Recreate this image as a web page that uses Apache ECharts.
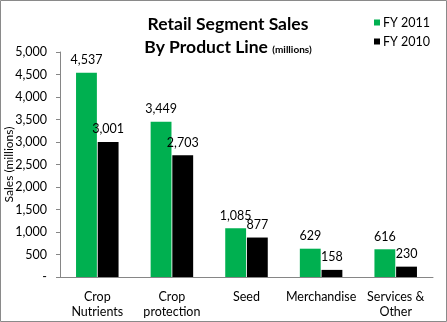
<!DOCTYPE html>
<html>
<head>
<meta charset="utf-8">
<script src="https://cdn.jsdelivr.net/npm/echarts@6/dist/echarts.min.js"></script>
<style>
  html, body { margin: 0; padding: 0; background: #fff; }
  #chart { width: 447px; height: 322px; }
</style>
</head>
<body>
<div id="chart"></div>
<script>
// Retail segment sales by product line, in millions
const categories = ['Crop\nNutrients', 'Crop\nprotection', 'Seed', 'Merchandise', 'Services &\nOther'];
const fy2011 = [4537, 3449, 1085, 629, 616];
const fy2010 = [3001, 2703, 877, 158, 230];
const seriesNames = ['FY 2011', 'FY 2010'];

const FONT = 'Lato, "Liberation Sans", sans-serif';
const fmt = v => v === 0 ? '-' : v.toLocaleString('en-US');

const chart = echarts.init(document.getElementById('chart'));

const barLabel = {
  show: true,
  position: 'top',
  distance: 6,
  color: '#000',
  fontSize: 12.5,
  fontFamily: FONT,
  formatter: p => fmt(p.value)
};

chart.setOption({
  animation: false,
  backgroundColor: '#fff',
  textStyle: { fontFamily: FONT },
  title: {
    text: '{t|Retail Segment Sales}\n{t|By Product Line} {s|(millions)}',
    left: 223,
    textAlign: 'center',
    top: 8,
    textStyle: {
      rich: {
        t: { fontSize: 17.5, fontWeight: 'bold', color: '#000', fontFamily: FONT, lineHeight: 23 },
        s: { fontSize: 10, fontWeight: 'bold', color: '#000', fontFamily: FONT, lineHeight: 23, verticalAlign: 'middle', padding: [4, 0, 0, 0] }
      }
    }
  },
  legend: {
    orient: 'vertical',
    left: 369,
    top: 11,
    itemWidth: 6,
    itemHeight: 6,
    itemGap: 6,
    icon: 'rect',
    data: seriesNames,
    textStyle: { fontSize: 12.5, color: '#000', fontFamily: FONT, padding: [0, 0, 0, -2] }
  },
  grid: { left: 60, right: 14, top: 52, bottom: 45, outerBoundsMode: 'none' },
  xAxis: {
    type: 'category',
    data: categories,
    axisLine: { lineStyle: { color: '#868686', width: 1 } },
    axisTick: { show: false },
    axisLabel: { color: '#000', fontSize: 12.5, fontFamily: FONT, margin: 12, lineHeight: 15, interval: 0 }
  },
  yAxis: {
    type: 'value',
    min: 0,
    max: 5000,
    interval: 500,
    name: 'Sales (millions)',
    nameLocation: 'middle',
    nameGap: 45,
    nameMoveOverlap: false,
    nameTextStyle: { color: '#000', fontSize: 12, fontFamily: FONT },
    axisLine: { show: true, lineStyle: { color: '#868686', width: 1 } },
    axisTick: { show: true, length: 4, lineStyle: { color: '#868686' } },
    splitLine: { show: false },
    axisLabel: { color: '#000', fontSize: 12.5, fontFamily: FONT, margin: 13, formatter: fmt }
  },
  series: [
    {
      name: seriesNames[0],
      type: 'bar',
      data: fy2011,
      barGap: '4%',
      barCategoryGap: '43%',
      itemStyle: { color: '#00B050' },
      label: barLabel
    },
    {
      name: seriesNames[1],
      type: 'bar',
      data: fy2010,
      itemStyle: { color: '#000000' },
      label: barLabel
    }
  ],
  graphic: [{
    type: 'rect',
    shape: { x: 0.5, y: 0.5, width: 446, height: 321 },
    style: { fill: null, stroke: '#8a8a8a', lineWidth: 1 },
    silent: true
  }]
});
</script>
</body>
</html>
